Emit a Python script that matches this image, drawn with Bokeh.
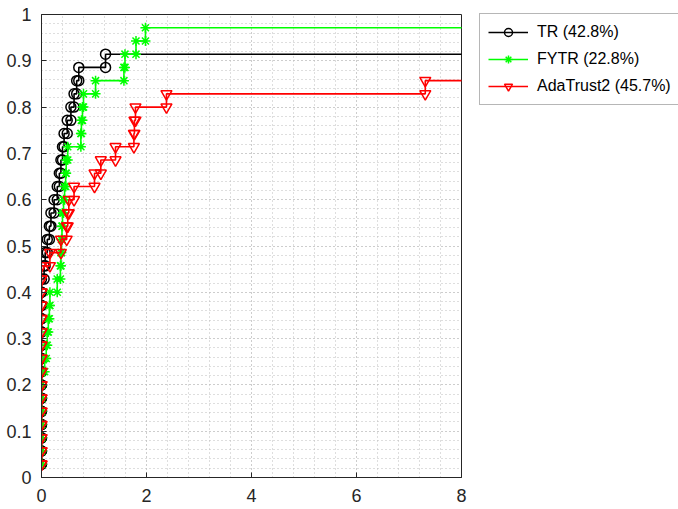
from bokeh.plotting import figure
from bokeh.models import Legend, LegendItem, FixedTicker
from bokeh.embed import file_html
from bokeh.resources import INLINE

# ---- data: sorted log2 performance ratios per solver (35 problems); None = failure
n_problems = 35
tr_ratios = [0, 0, 0, 0, 0, 0, 0, 0, 0, 0, 0, 0, 0, 0, 0,
             0.05, 0.07, 0.11, 0.15, 0.18, 0.24, 0.30, 0.34, 0.37, 0.40,
             0.43, 0.49, 0.56, 0.62, 0.67, 0.71, 1.22,
             None, None, None]
fytr_ratios = [0, 0, 0, 0, 0, 0, 0, 0,
               0.06, 0.09, 0.11, 0.13, 0.15, 0.16, 0.30, 0.36, 0.37, 0.38,
               0.39, 0.40, 0.42, 0.44, 0.46, 0.47, 0.50, 0.75, 0.76, 0.78,
               0.80, 1.03, 1.57, 1.59, 1.80, 1.98,
               None]
ada_ratios = [0, 0, 0, 0, 0, 0, 0, 0, 0, 0, 0, 0, 0, 0, 0, 0,
              0.16, 0.37, 0.48, 0.50, 0.52, 0.62, 1.01, 1.13, 1.41, 1.76,
              1.77, 1.79, 2.38, 7.31,
              None, None, None, None, None]
series_labels = ["TR (42.8%)", "FYTR (22.8%)", "AdaTrust2 (45.7%)"]
series_colors = ["#000000", "#00ff00", "#ff0000"]
series_markers = ["circle", "asterisk", "inverted_triangle"]

x_ticks = [0, 2, 4, 6, 8]
x_minor = [i * 0.4 for i in range(21)]
y_ticks = [0, 0.1, 0.2, 0.3, 0.4, 0.5, 0.6, 0.7, 0.8, 0.9, 1.0]
y_tick_labels = ["0", "0.1", "0.2", "0.3", "0.4", "0.5", "0.6", "0.7", "0.8", "0.9", "1"]
y_minor = [i * 0.02 for i in range(51)]

finite_max = max(v for s in (tr_ratios, fytr_ratios, ada_ratios) for v in s if v is not None)
fail_value = 2 * finite_max


def stairs(r):
    vals = [fail_value if v is None else v for v in r]
    theta = [(i + 1) / n_problems for i in range(len(vals))]
    xs, ys = [], []
    for i in range(len(vals)):
        if i > 0:
            xs.append(vals[i])
            ys.append(theta[i - 1])
        xs.append(vals[i])
        ys.append(theta[i])
    return xs, ys


p = figure(frame_width=420, frame_height=463, x_range=(0, 8), y_range=(0, 1),
           output_backend="svg", toolbar_location=None,
           min_border_left=41, min_border_top=14, min_border_bottom=32,
           min_border_right=217)

p.background_fill_color = "white"
p.outline_line_color = "#262626"
p.outline_line_width = 1

font = "Liberation Sans"
for ax in (p.xaxis[0], p.yaxis[0]):
    ax.axis_line_color = "#262626"
    ax.major_tick_line_color = "#262626"
    ax.major_tick_in = 5
    ax.major_tick_out = 0
    ax.minor_tick_in = 0
    ax.minor_tick_out = 0
    ax.major_label_text_font = font
    ax.major_label_text_font_size = "18px"
    ax.major_label_text_color = "#262626"

p.xaxis[0].ticker = FixedTicker(ticks=x_ticks, minor_ticks=x_minor)
p.yaxis[0].ticker = FixedTicker(ticks=y_ticks, minor_ticks=y_minor)
p.yaxis[0].major_label_overrides = {t: l for t, l in zip(y_ticks, y_tick_labels)}
p.xaxis[0].major_label_standoff = 11
p.yaxis[0].major_label_standoff = 10

for g in (p.xgrid[0], p.ygrid[0]):
    g.grid_line_color = "#bdbdbd"
    g.grid_line_dash = "1 3"
    g.grid_line_width = 1
    g.minor_grid_line_color = "#bdbdbd"
    g.minor_grid_line_dash = "1 3"
    g.minor_grid_line_width = 1
p.xgrid[0].ticker = FixedTicker(ticks=x_ticks, minor_ticks=x_minor)
p.ygrid[0].ticker = FixedTicker(ticks=y_ticks, minor_ticks=y_minor)

items = []
sizes = {"circle": 10, "asterisk": 10, "inverted_triangle": 11}
for r, lab, col, mk in zip((tr_ratios, fytr_ratios, ada_ratios), series_labels,
                           series_colors, series_markers):
    xs, ys = stairs(r)
    ln = p.line(xs, ys, line_color=col, line_width=1.6)
    sc = p.scatter(xs, ys, marker=mk, size=sizes[mk], fill_color=None,
                   line_color=col, line_width=1.5)
    items.append(LegendItem(label=lab, renderers=[ln, sc]))

legend = Legend(items=items, location=(18, 372))
legend.label_text_font = font
legend.label_text_font_size = "16px"
legend.label_text_color = "#000000"
legend.glyph_width = 40
legend.glyph_height = 20
legend.label_height = 20
legend.label_standoff = 9
legend.padding = 8
legend.spacing = 7
legend.margin = 0
legend.border_line_color = "#6e6e6e"
legend.border_line_width = 1
legend.background_fill_color = "white"
legend.background_fill_alpha = 1
p.add_layout(legend, "right")

open("out.html", "w").write(file_html(p, INLINE))
